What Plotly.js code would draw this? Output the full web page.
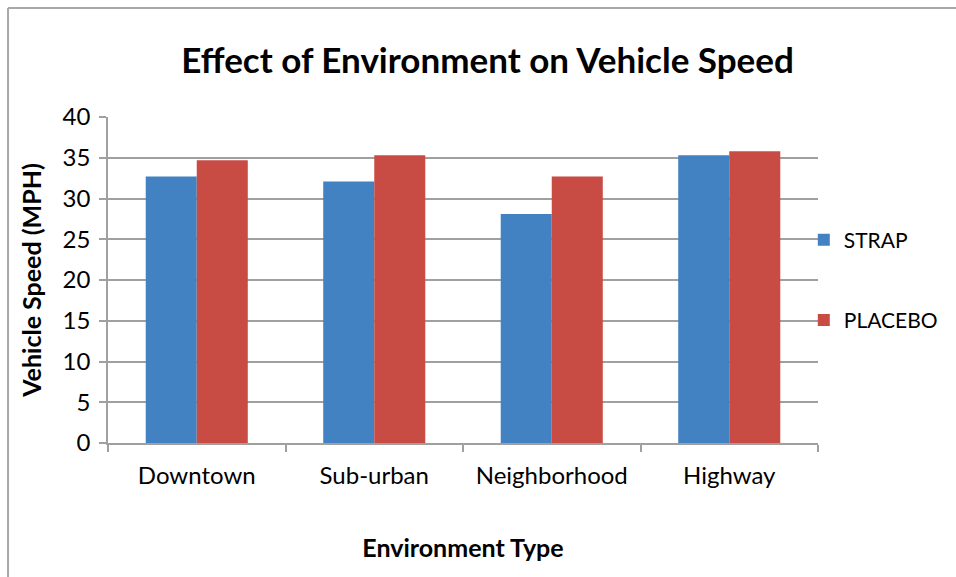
<!DOCTYPE html>
<html><head><meta charset="utf-8">
<script src="https://cdn.plot.ly/plotly-3.0.1.min.js"></script>
<style>body{margin:0;background:#fff}#chart{width:956px;height:577px}</style>
</head><body><div id="chart"></div>
<script>
const categories = ["Downtown", "Sub-urban", "Neighborhood", "Highway"];
const strap = [32.7, 32.1, 28.1, 35.3];
const placebo = [34.7, 35.3, 32.7, 35.8];
const yTicks = [0, 5, 10, 15, 20, 25, 30, 35, 40];

const font = "Lato, 'Open Sans', sans-serif";
const data = [
  {type: "bar", name: "STRAP", x: categories, y: strap, legendgroup: "a",
   marker: {color: "#4382c2"}},
  {type: "bar", name: "PLACEBO", x: categories, y: placebo, legendgroup: "b",
   marker: {color: "#c84b44"}}
];
const layout = {
  width: 956, height: 577,
  margin: {l: 108, r: 138, t: 117, b: 134, autoexpand: false},
  paper_bgcolor: "#fff", plot_bgcolor: "#fff",
  font: {family: font, color: "#000", size: 24},
  title: {text: "<b>Effect of Environment on Vehicle Speed</b>", font: {size: 35, family: font},
          x: 0.51, xanchor: "center", xref: "container", y: 0.895, yanchor: "middle"},
  barmode: "group", bargap: 0.425, bargroupgap: 0,
  xaxis: {showline: true, linecolor: "#a0a0a0", linewidth: 1.5, ticks: "outside",
          tickson: "boundaries", ticklen: 7, tickcolor: "#a0a0a0", tickwidth: 1.5,
          tickfont: {size: 24}, showgrid: false, ticklabelstandoff: 10,
          title: {text: "<b>Environment Type</b>", font: {size: 25}, standoff: 52}},
  yaxis: {range: [0, 40], tickvals: yTicks, showline: true, linecolor: "#a0a0a0", linewidth: 1.5,
          ticks: "outside", ticklen: 7, tickcolor: "#a0a0a0", tickwidth: 1.5, ticklabelstandoff: 4,
          gridcolor: "#a0a0a0", gridwidth: 1.5, zeroline: false, tickfont: {size: 24},
          title: {text: "<b>Vehicle Speed (MPH)</b>", font: {size: 25}, standoff: 14}},
  legend: {x: 0.98, xanchor: "left", y: 0.5, yanchor: "middle", font: {size: 21},
           tracegroupgap: 50, itemwidth: 30, bgcolor: "rgba(0,0,0,0)"},
  shapes: [
    {type: "line", xref: "paper", yref: "paper", x0: -0.1408, x1: -0.1408, y0: -0.42, y1: 1.334,
     line: {color: "#a8a8a8", width: 2}},
    {type: "line", xref: "paper", yref: "paper", x0: -0.1408, x1: 1.2, y0: 1.334, y1: 1.334,
     line: {color: "#a8a8a8", width: 2}}
  ]
};
Plotly.newPlot("chart", data, layout, {displayModeBar: false});
</script></body></html>
